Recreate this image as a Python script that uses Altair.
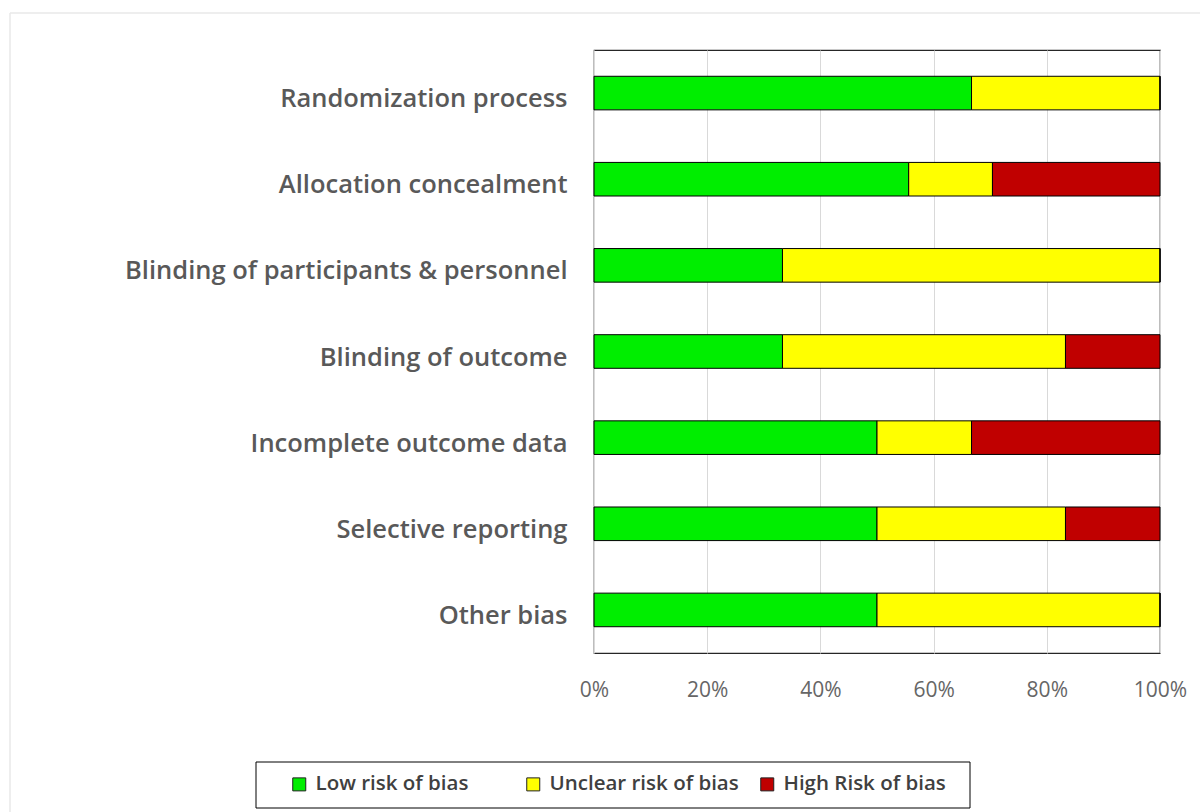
import altair as alt
import pandas as pd

categories = [
    "Randomization process",
    "Allocation concealment",
    "Blinding of participants & personnel",
    "Blinding of outcome",
    "Incomplete outcome data",
    "Selective reporting",
    "Other bias",
]
low = [66.7, 55.6, 33.3, 33.3, 50.0, 50.0, 50.0]
unclear = [33.3, 14.8, 66.7, 50.0, 16.7, 33.3, 50.0]
high = [0.0, 29.6, 0.0, 16.7, 33.3, 16.7, 0.0]
series = ["Low risk of bias", "Unclear risk of bias", "High Risk of bias"]
colors = ["#00EE00", "#FFFF00", "#C00000"]
x_ticks = [0, 20, 40, 60, 80, 100]

rows = []
for i, c in enumerate(categories):
    for k, (name, vals) in enumerate(zip(series, [low, unclear, high])):
        rows.append({"domain": c, "risk": name, "pct": vals[i], "ord": k})
df = pd.DataFrame(rows)

PLOT_W, PLOT_H = 566, 603
FONT = "Open Sans"

bars = alt.Chart(df).mark_bar(stroke="#000000", strokeWidth=1).encode(
    y=alt.Y("domain:N", sort=categories, title=None,
            scale=alt.Scale(paddingInner=0.61, paddingOuter=0.305),
            axis=alt.Axis(ticks=False, domain=False, labelPadding=27, labelOffset=6,
                          labelFont=FONT, labelFontSize=25.5, labelFontWeight=600,
                          labelColor="#595959", labelLimit=600)),
    x=alt.X("pct:Q", stack="zero", title=None,
            scale=alt.Scale(domain=[0, 100], nice=False),
            axis=alt.Axis(values=x_ticks, labelExpr="datum.value + '%'", ticks=False,
                          domain=False, grid=True, gridColor="#D9D9D9", labelPadding=26,
                          labelFlush=False,
                          labelFont=FONT, labelFontSize=21, labelColor="#666666")),
    color=alt.Color("risk:N", sort=series,
                    scale=alt.Scale(domain=series, range=colors),
                    legend=alt.Legend(title=None, orient="none", direction="horizontal",
                                      columns=3, gridAlign="all",
                                      legendX=-305, legendY=724, padding=0,
                                      symbolType="square", symbolSize=169,
                                      symbolStrokeColor="#202020", symbolStrokeWidth=1,
                                      labelFont=FONT, labelFontSize=20.5, labelLimit=400,
                                      labelFontWeight=600, labelColor="#404040",
                                      columnPadding=18, labelOffset=6)),
    order=alt.Order("ord:Q"),
)

frame_df = pd.DataFrame({"a": [0]})
legend_box = alt.Chart(frame_df).mark_rect(fill=None, stroke="#000000", strokeWidth=1).encode(
    x=alt.value(-338), x2=alt.value(376), y=alt.value(712), y2=alt.value(758)
)
outer_top = alt.Chart(frame_df).mark_rule(color="#E8E8E8", strokeWidth=1.5).encode(
    x=alt.value(-584), x2=alt.value(640), y=alt.value(-37)
)
outer_left = alt.Chart(frame_df).mark_rule(color="#E8E8E8", strokeWidth=1.5).encode(
    x=alt.value(-584), y=alt.value(-37), y2=alt.value(800)
)

chart = alt.layer(outer_top, outer_left, bars, legend_box).properties(
    width=PLOT_W, height=PLOT_H,
    autosize=alt.AutoSizeParams(type="none"),
    padding={"left": 594, "top": 50, "right": 40, "bottom": 159},
    background="#FFFFFF",
).configure_view(stroke="#262626", strokeWidth=1.2)

chart.save("out.html", embed_options={"renderer": "svg", "actions": False})
